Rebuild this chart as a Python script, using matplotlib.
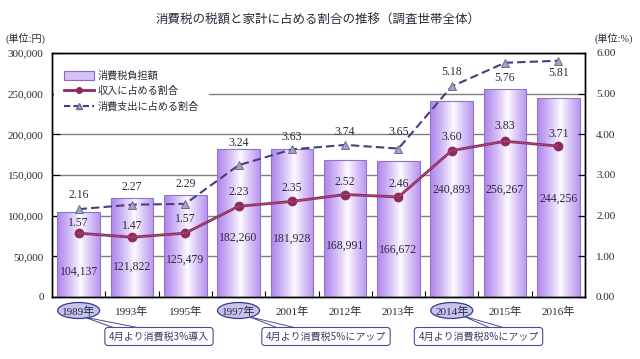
import numpy as np
import matplotlib
matplotlib.use("Agg")
import matplotlib.pyplot as plt
import matplotlib.transforms as mtransforms
from matplotlib.patches import Ellipse, Polygon, Patch
from matplotlib.lines import Line2D
from matplotlib.ticker import FuncFormatter, FixedLocator

# data
years = ["1989年", "1993年", "1995年", "1997年", "2001年",
         "2012年", "2013年", "2014年", "2015年", "2016年"]
tax_amount = [104137, 121822, 125479, 182260, 181928,
              168991, 166672, 240893, 256267, 244256]
income_ratio = [1.57, 1.47, 1.57, 2.23, 2.35, 2.52, 2.46, 3.60, 3.83, 3.71]
spend_ratio = [2.16, 2.27, 2.29, 3.24, 3.63, 3.74, 3.65, 5.18, 5.76, 5.81]
events = [(0, "4月より消費税3%導入"),
          (3, "4月より消費税5%にアップ"),
          (7, "4月より消費税8%にアップ")]

JP = "Noto Sans CJK JP"
SERIF = ["Liberation Serif", JP]
TXT = "#2a2a3a"

# where the amount labels sit inside each bar (yen)
amount_label_y = [30700, 36900, 45500, 72500, 71300, 62700, 57800, 131600, 131600, 120500]
# vertical offsets (points) of the ratio labels
spend_off = [10, 13, 14, 16, 9, 9, 12, 10, -11, -9]
income_off = [7, 8, 10, 10, 10, 9, 9, 10, 11, 9]

fig = plt.figure(figsize=(6.4, 3.59), dpi=100)
AX_L, AX_B, AX_W, AX_H = 52, 62, 533, 244
ax = fig.add_axes([AX_L/640, AX_B/359, AX_W/640, AX_H/359])
x = np.arange(len(years))

# bars with a horizontal purple-white-purple gradient
bars = ax.bar(x, tax_amount, width=0.8, facecolor="none",
              edgecolor="#9074c8", linewidth=0.8, zorder=3)
edge = np.array([176, 136, 238]) / 255
mid = np.array([253, 250, 255]) / 255
t = np.linspace(0, 1, 64)
w = np.clip(1 - np.abs(t - 0.55) / 0.55, 0, 1) ** 1.2
grad = (edge[None, :] * (1 - w[:, None]) + mid[None, :] * w[:, None])[None, :, :]
for b in bars:
    x0, y0 = b.get_x(), b.get_y()
    im = ax.imshow(grad, extent=[x0, x0 + b.get_width(), y0, y0 + b.get_height()],
                   aspect="auto", zorder=2, interpolation="bilinear")
    im.set_clip_path(b)

ax.set_xlim(-0.5, len(years) - 0.5)
ax.set_ylim(0, 300000)
ax.yaxis.set_major_locator(FixedLocator(np.arange(0, 300001, 50000)))
ax.yaxis.set_major_formatter(FuncFormatter(lambda v, p: f"{int(v):,}"))
ax.grid(axis="y", color="#808080", linewidth=1.0)
ax.set_axisbelow("line")
ax.set_xticks(x)
ax.set_xticklabels(years)
ax.set_xticks(x[:-1] + 0.5, minor=True)
ax.tick_params(axis="x", which="major", length=0, pad=7)
ax.tick_params(axis="x", which="minor", direction="in", length=4, width=0.8)
ax.tick_params(axis="y", direction="in", length=6, width=0.8, pad=6)
for lab in ax.get_xticklabels() + ax.get_yticklabels():
    lab.set_family(SERIF)
    lab.set_fontsize(8)
    lab.set_color(TXT)
for s in ax.spines.values():
    s.set_linewidth(1.0)

for xi, v, ly in zip(x, tax_amount, amount_label_y):
    ax.text(xi, ly, f"{v:,}", ha="center", va="center", fontsize=8.5,
            family=SERIF, color=TXT, zorder=4)

# ratios on the right axis
ax2 = ax.twinx()
ax2.set_ylim(0, 6)
ax2.yaxis.set_major_locator(FixedLocator(np.arange(0, 6.01, 1)))
ax2.yaxis.set_major_formatter(FuncFormatter(lambda v, p: f"{v:.2f}"))
ax2.tick_params(axis="y", direction="in", length=5, width=0.8, pad=8)
for lab in ax2.get_yticklabels():
    lab.set_family(SERIF)
    lab.set_fontsize(8)
    lab.set_color(TXT)
for s in ax2.spines.values():
    s.set_linewidth(1.0)

ax2.plot(x, spend_ratio, color="#4b3c7e", linewidth=1.5, dashes=(4, 2),
         marker="^", markersize=6, markerfacecolor="#a4a4c4",
         markeredgecolor="#6a6a90", markeredgewidth=0.7, zorder=5)
ax2.plot(x, income_ratio, color="#8e2a5c", linewidth=2.0,
         marker="o", markersize=6, markerfacecolor="#8e2a5c",
         markeredgecolor="#8e2a5c", zorder=6)
ax2.plot(x, income_ratio, color="#d8a8c8", linewidth=0.5, linestyle=":", zorder=6)

for xi, v, off in zip(x, spend_ratio, spend_off):
    ax2.annotate(f"{v:.2f}", (xi, v), xytext=(0, off), textcoords="offset points",
                 ha="center", va="center", fontsize=8.5, family=SERIF, color=TXT,
                 zorder=7)
for xi, v, off in zip(x, income_ratio, income_off):
    ax2.annotate(f"{v:.2f}", (xi, v), xytext=(0, off), textcoords="offset points",
                 ha="center", va="center", fontsize=8.5, family=SERIF, color=TXT,
                 zorder=7)

# legend
handles = [Patch(facecolor="#d6c2f6", edgecolor="#8868c0", linewidth=0.8),
           Line2D([], [], color="#8e2a5c", linewidth=2.0, marker="o", markersize=4),
           Line2D([], [], color="#4b3c7e", linewidth=1.5, dashes=(3, 1.5), marker="^",
                  markersize=5, markerfacecolor="#a4a4c4", markeredgecolor="#6a6a90")]
leg = ax2.legend(handles, ["消費税負担額", "収入に占める割合", "消費支出に占める割合"],
                 loc="upper left", bbox_to_anchor=(0.0, 0.975), prop={"family": JP, "size": 7.3},
                 frameon=True, facecolor="white", edgecolor="none", framealpha=1,
                 fancybox=False, borderpad=1.0, labelspacing=0.5, handlelength=3.0,
                 handleheight=0.9, handletextpad=0.3, borderaxespad=0.15)
leg.set_zorder(8)
for tx in leg.get_texts():
    tx.set_color(TXT)

# titles and units
fig.text(0.497, 1 - 20/359, "消費税の税額と家計に占める割合の推移（調査世帯全体）",
         ha="center", va="center", fontsize=9, family=JP, color=TXT)
fig.text(6/640, 1 - 38/359, "(単位:円)", ha="left", va="center", fontsize=7.3,
         family=SERIF, color=TXT)
fig.text(633/640, 1 - 38/359, "(単位:%)", ha="right", va="center", fontsize=7.3,
         family=SERIF, color=TXT)

# callouts under the axis, positioned in picture pixels
tr = mtransforms.blended_transform_factory(ax.transData, ax.transAxes)
cat_w = AX_W / len(years)


def px(p):
    return (p - AX_L) / cat_w - 0.5


def py(p):
    return (297 - p) / AX_H


box_cx = [159, 326, 478.5]
pointers = [((84, 317), 120, 150), ((250, 317), 283, 305), ((463, 316), 495, 512)]
for (i, label), bx, (apex, bl, br) in zip(events, box_cx, pointers):
    ax.add_patch(Polygon([(px(apex[0]), py(apex[1])), (px(bl), py(330)), (px(br), py(330))],
                         closed=True, transform=tr, facecolor="white",
                         edgecolor="#4a4a9a", linewidth=0.7, clip_on=False, zorder=0.9))
    ax.add_patch(Ellipse((i, py(310.5)), 42 / cat_w, 16 / AX_H, transform=tr,
                         facecolor="#c4c4f0", edgecolor="#3a3a8a", linewidth=0.9,
                         clip_on=False, zorder=1.0))
    ax.text(px(bx), py(336.5), label, transform=tr, ha="center", va="center",
            fontsize=7.2, family=JP, color="#3a3a6a", zorder=11,
            bbox=dict(boxstyle="round,pad=0.4,rounding_size=0.3",
                      facecolor="white", edgecolor="#4a4a9a", linewidth=0.8))

fig.savefig("out.png", dpi=100)
